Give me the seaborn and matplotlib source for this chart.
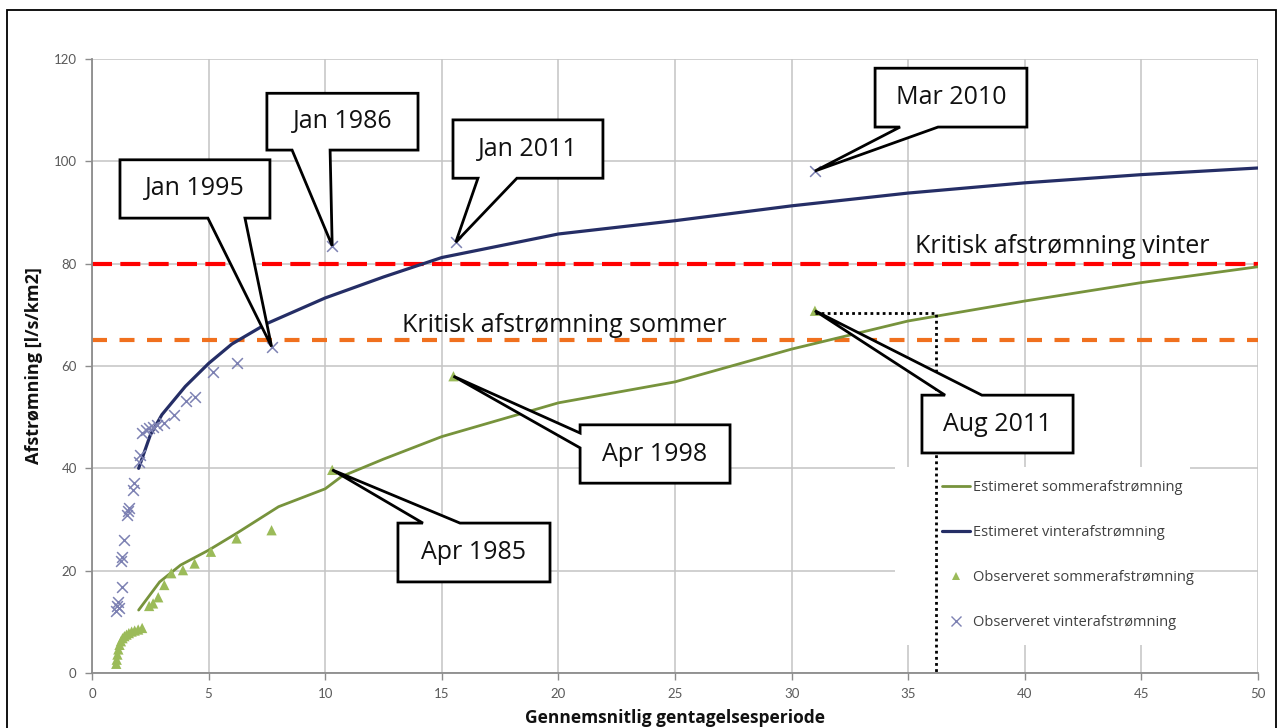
import matplotlib
matplotlib.use("Agg")
import numpy as np
import pandas as pd
import matplotlib.pyplot as plt
import seaborn as sns
from matplotlib.patches import Polygon, Rectangle
from matplotlib.lines import Line2D

# ---------------------------------------------------------------- data
# Estimated flood-frequency curves (return period in years, runoff l/s/km2)
winter_est_T = [2, 2.5, 3, 4, 5, 6, 7.5, 10, 12.5, 15, 20, 25, 30, 35, 40, 45, 50]
winter_est_Q = [40, 46.5, 50.5, 56, 60.5, 64.3, 68.3, 73.3, 77.4, 81.2, 85.8, 88.4,
                91.3, 93.8, 95.8, 97.4, 98.7]

summer_est_T = [2, 2.9, 3.8, 5, 6.2, 8, 10, 10.7, 12.5, 15, 20, 25, 30, 35, 40, 45, 50]
summer_est_Q = [12.3, 17.8, 21.1, 24, 27.3, 32.5, 36, 38.4, 41.8, 46.2, 52.8, 56.9,
                63.3, 68.8, 72.7, 76.3, 79.4]

# Observed annual maxima (plotting-position return period, runoff)
winter_obs_T = [1.05, 1.08, 1.12, 1.16, 1.27, 1.24, 1.3, 1.36, 1.5, 1.55, 1.6, 1.75,
                1.82, 2.0, 2.05, 2.15, 2.3, 2.45, 2.6, 2.8, 3.1, 3.5, 4.05, 4.4, 5.2,
                6.2, 7.7, 10.3, 15.6, 31.0]
winter_obs_Q = [12.2, 13.0, 13.8, 12.7, 16.8, 21.8, 22.6, 26.0, 30.8, 31.6, 32.3, 35.8,
                37.2, 41.3, 42.6, 46.9, 47.4, 47.8, 48.1, 48.5, 48.9, 50.4, 53.1, 54.0,
                58.9, 60.6, 63.8, 83.5, 84.2, 98.1]
winter_event = [""] * 26 + ["Jan 1995", "Jan 1986", "Jan 2011", "Mar 2010"]

summer_obs_T = [1.04, 1.06, 1.09, 1.13, 1.18, 1.24, 1.31, 1.39, 1.48, 1.58, 1.7, 1.83,
                1.98, 2.15, 2.45, 2.62, 2.84, 3.1, 3.4, 3.9, 4.4, 5.1, 6.2, 7.7,
                10.3, 15.5, 31.0]
summer_obs_Q = [1.8, 2.6, 3.6, 4.6, 5.5, 6.2, 6.8, 7.2, 7.5, 7.8, 8.1, 8.3,
                8.5, 8.8, 13.1, 13.6, 14.8, 17.2, 19.5, 20.1, 21.4, 23.7, 26.3, 27.9,
                39.7, 58.0, 70.8]
summer_event = [""] * 24 + ["Apr 1985", "Apr 1998", "Aug 2011"]

critical_winter = 80
critical_summer = 65
aug2011_return_period = 36.2
aug2011_level = 70.3

legend_labels = ["Estimeret sommerafstrømning", "Estimeret vinterafstrømning",
                 "Observeret sommerafstrømning", "Observeret vinterafstrømning"]

# ---------------------------------------------------------------- style
sns.set_theme(style="white")
plt.rcParams["font.family"] = ["Lato", "DejaVu Sans"]
WIDE = ["Open Sans", "DejaVu Sans"]

C_SUMMER_LINE = "#77933c"
C_WINTER_LINE = "#252e66"
C_SUMMER_PT = "#9bbb59"
C_WINTER_PT = "#7d81b3"
C_GRID = "#c4c4c4"
C_AXIS = "#8c8c8c"

W, H = 1284, 728
fig = plt.figure(figsize=(W / 100, H / 100), dpi=100)
fig.patch.set_facecolor("white")
ax = fig.add_axes([92 / W, 1 - 673 / H, 1166 / W, 614 / H])

ax.set_xlim(0, 50)
ax.set_ylim(0, 120)
ax.set_xticks(range(0, 51, 5))
ax.set_yticks(range(0, 121, 20))
ax.grid(True, color=C_GRID, lw=1.1, zorder=0.5)
ax.set_axisbelow(True)
for s in ("top", "right"):
    ax.spines[s].set_visible(False)
for s in ("left", "bottom"):
    ax.spines[s].set_color(C_AXIS)
    ax.spines[s].set_linewidth(1.3)
ax.tick_params(direction="out", length=5, width=1, color=C_AXIS,
               labelsize=9.5, labelcolor="#5a5a5a", pad=6)
ax.tick_params(axis="x", bottom=True)
ax.tick_params(axis="y", left=True)

# white panel behind the legend hides the grid there
ax.add_patch(Rectangle(((895 - 92) / 1166, (673 - 645) / 614), 295 / 1166, 178 / 614,
                       transform=ax.transAxes, facecolor="white", edgecolor="none",
                       zorder=1))

# ---------------------------------------------------------------- curves
sns.lineplot(x=summer_est_T, y=summer_est_Q, color=C_SUMMER_LINE, lw=2.0,
             sort=False, estimator=None, ax=ax, zorder=3)
sns.lineplot(x=winter_est_T, y=winter_est_Q, color=C_WINTER_LINE, lw=2.3,
             sort=False, estimator=None, ax=ax, zorder=3)

# critical thresholds
ax.axhline(critical_winter, color="#ff0000", lw=3, dashes=(4.8, 2.0), zorder=2)
ax.axhline(critical_summer, color="#f0701e", lw=3, dashes=(3.6, 3.0), zorder=2)
ax.text(35.3, critical_winter + 3.4, "Kritisk afstrømning vinter", fontsize=18,
        family=WIDE, color="#111111", va="center", ha="left", zorder=4)
ax.text(13.3, critical_summer + 2.9, "Kritisk afstrømning sommer", fontsize=18,
        family=WIDE, color="#111111", va="center", ha="left", zorder=4)

# observed points
sns.scatterplot(x=summer_obs_T, y=summer_obs_Q, marker="^", s=55, color=C_SUMMER_PT,
                edgecolor="none", ax=ax, zorder=4)
sns.scatterplot(x=winter_obs_T, y=winter_obs_Q, marker="x", s=60, color=C_WINTER_PT,
                linewidth=1.1, ax=ax, zorder=4)

# return period of the August 2011 event
ax.plot([summer_obs_T[-1], aug2011_return_period, aug2011_return_period],
        [aug2011_level, aug2011_level, 0], color="black", lw=2, ls=(0, (1, 1.2)),
        zorder=5.5, clip_on=False)


# ---------------------------------------------------------------- callouts
def callout(label, box, base, tip, side):
    x0, y0, x1, y1 = box
    if side == "bottom":
        verts = [(x0, y1), (x1, y1), (x1, y0), (base[1], y0), tip, (base[0], y0), (x0, y0)]
    elif side == "top":
        verts = [(x0, y1), (base[0], y1), tip, (base[1], y1), (x1, y1), (x1, y0), (x0, y0)]
    else:  # left edge, base = (upper y, lower y)
        verts = [(x0, y1), (x1, y1), (x1, y0), (x0, y0), (x0, base[1]), tip, (x0, base[0])]
    ax.add_patch(Polygon(verts, closed=True, facecolor="white", edgecolor="black",
                         lw=2, joinstyle="miter", zorder=6, clip_on=False))
    ax.text((x0 + x1) / 2, (y0 + y1) / 2, label, ha="center", va="center",
            fontsize=18, family=WIDE, color="#111111", zorder=7)


def event_point(name):
    if name in winter_event:
        i = winter_event.index(name)
        return winter_obs_T[i], winter_obs_Q[i]
    i = summer_event.index(name)
    return summer_obs_T[i], summer_obs_Q[i]


callouts = [
    ("Jan 1995", (1.20, 88.9, 7.63, 100.3), (4.97, 6.56), "bottom"),
    ("Jan 1986", (7.50, 102.2, 13.98, 113.3), (8.58, 10.21), "bottom"),
    ("Jan 2011", (15.48, 96.7, 21.91, 108.1), (16.55, 18.22), "bottom"),
    ("Mar 2010", (33.58, 106.7, 40.09, 118.2), (34.65, 36.28), "bottom"),
    ("Aug 2011", (35.59, 43.0, 42.07, 54.3), (36.58, 38.16), "top"),
    ("Apr 1998", (20.93, 37.1, 27.36, 48.5), (46.9, 44.0), "left"),
    ("Apr 1985", (13.12, 17.8, 19.64, 29.3), (14.19, 15.78), "top"),
]
for name, box, base, side in callouts:
    callout(name, box, base, event_point(name), side)

# ---------------------------------------------------------------- legend
handles = [
    Line2D([], [], color=C_SUMMER_LINE, lw=2.0),
    Line2D([], [], color=C_WINTER_LINE, lw=2.3),
    Line2D([], [], color=C_SUMMER_PT, marker="^", ls="none", markersize=6, markeredgewidth=0),
    Line2D([], [], color=C_WINTER_PT, marker="x", ls="none", markersize=7, markeredgewidth=1),
]
leg = ax.legend(handles, legend_labels, loc="upper left",
                bbox_to_anchor=((942 - 92) / 1166, (673 - 480) / 614),
                frameon=False, prop={"family": WIDE, "size": 10.5},
                labelspacing=2.05, handlelength=1.9, handletextpad=0.25,
                borderpad=0, borderaxespad=0)
leg.set_zorder(5)
for t in leg.get_texts():
    t.set_color("#404040")

# ---------------------------------------------------------------- labels
ax.set_ylabel("Afstrømning [l/s/km2]", fontsize=13, fontweight="bold", family=WIDE,
              color="#111111", labelpad=8)
ax.set_xlabel("Gennemsnitlig gentagelsesperiode", fontsize=12.5, fontweight="bold",
              family=WIDE, color="#111111", labelpad=6)

# outer frame
fig.add_artist(Rectangle((7 / W, -0.05), (1276 - 7) / W, 1.05 - 10 / H,
                         transform=fig.transFigure, fill=False, edgecolor="black", lw=1.3))

fig.savefig("out.png", dpi=100, facecolor="white")
